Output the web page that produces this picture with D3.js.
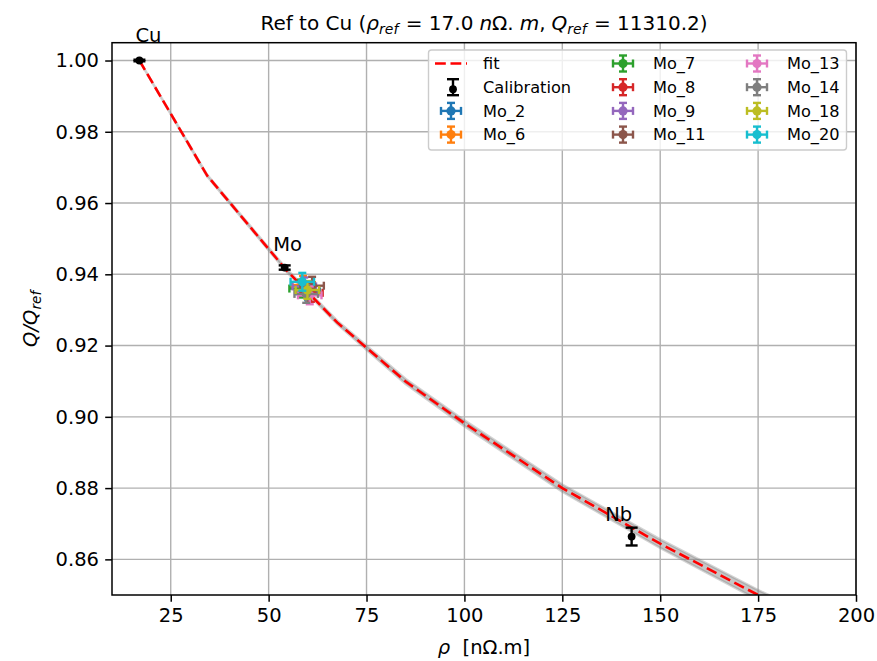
<!DOCTYPE html>
<html><head><meta charset="utf-8">
<script src="https://cdn.jsdelivr.net/npm/d3@7"></script>
<style>body{margin:0;background:#fff} text{font-family:"DejaVu Sans",sans-serif;fill:#000}</style>
</head><body><svg id="c" width="877" height="661"></svg>
<script>
// ---- data ----
const xTicks = [25, 50, 75, 100, 125, 150, 175, 200];
const yTicks = [0.86, 0.88, 0.90, 0.92, 0.94, 0.96, 0.98, 1.00];
const fitRho  = [17, 34.3, 54.5, 67.5, 85, 100, 125, 150, 175, 200];
const fitQ    = [1.0, 0.9677, 0.9412, 0.9265, 0.9099, 0.8982, 0.8800, 0.8644, 0.8500, 0.8368];
const fitBand = [0, 0.0002, 0.0004, 0.0005, 0.0007, 0.0008, 0.0010, 0.0012, 0.0014, 0.0016];
const calNames = ["Cu", "Mo", "Nb"];
const calRho   = [17.0, 54.1, 142.7];
const calQ     = [1.0, 0.9419, 0.8664];
const calErr   = [0.0002, 0.0006, 0.0025];
const sampleNames  = ["Mo_2","Mo_6","Mo_7","Mo_8","Mo_9","Mo_11","Mo_13","Mo_14","Mo_18","Mo_20"];
const sampleRho    = [60.1, 58.8, 58.3, 60.8, 59.1, 61.1, 60.5, 59.6, 59.9, 58.6];
const sampleQ      = [0.9352, 0.9370, 0.9360, 0.9348, 0.9366, 0.9368, 0.9341, 0.9345, 0.9356, 0.9379];
const sampleRhoErr = [3.0, 3.0, 3.0, 3.0, 3.0, 3.0, 3.0, 3.0, 3.0, 3.0];
const sampleQErr   = [0.0025, 0.0025, 0.0025, 0.0025, 0.0025, 0.0025, 0.0025, 0.0025, 0.0025, 0.0025];

// ---- layout / style ----
const L = 112, R = 856, T = 42.7, B = 595;
const FS = 19.5, LFS = 16.2;
const labelOffsets = [[9, -19], [3, -17], [-13, -16]];
const colors = d3.schemeCategory10;

const svg = d3.select("#c");
const x = d3.scaleLinear().domain([10, 200]).range([L, R]);
const y = d3.scaleLinear().domain([0.85, 1.005]).range([B, T]);

svg.append("defs").append("clipPath").attr("id", "clip")
  .append("rect").attr("x", L).attr("y", T).attr("width", R - L).attr("height", B - T);

// grid
const grid = svg.append("g");
xTicks.forEach(t => grid.append("line").attr("x1", x(t)).attr("x2", x(t)).attr("y1", T).attr("y2", B)
  .attr("stroke", "#b0b0b0").attr("stroke-width", 1.4));
yTicks.forEach(t => grid.append("line").attr("x1", L).attr("x2", R).attr("y1", y(t)).attr("y2", y(t))
  .attr("stroke", "#b0b0b0").attr("stroke-width", 1.4));

const plot = svg.append("g").attr("clip-path", "url(#clip)");
const fitData = fitRho.map((r, i) => ({ r, q: fitQ[i], b: fitBand[i] }));

// band
plot.append("path").datum(fitData)
  .attr("d", d3.area().x(d => x(d.r)).y0(d => y(d.q - d.b)).y1(d => y(d.q + d.b)))
  .attr("fill", "#808080").attr("fill-opacity", 0.45)
  .attr("stroke", "#808080").attr("stroke-opacity", 0.35).attr("stroke-width", 2.5);

// fit line
plot.append("path").datum(fitData)
  .attr("d", d3.line().x(d => x(d.r)).y(d => y(d.q)))
  .attr("fill", "none").attr("stroke", "#ff0000").attr("stroke-width", 2.6)
  .attr("stroke-dasharray", "10.8,4.7");

function vbar(g, cx, y1, y2, cap, col, w) {
  g.append("line").attr("x1", cx).attr("x2", cx).attr("y1", y1).attr("y2", y2).attr("stroke", col).attr("stroke-width", w);
  [y1, y2].forEach(yy => g.append("line").attr("x1", cx - cap).attr("x2", cx + cap).attr("y1", yy).attr("y2", yy)
    .attr("stroke", col).attr("stroke-width", w));
}
function hbar(g, cy, x1, x2, cap, col, w) {
  g.append("line").attr("x1", x1).attr("x2", x2).attr("y1", cy).attr("y2", cy).attr("stroke", col).attr("stroke-width", w);
  [x1, x2].forEach(xx => g.append("line").attr("x1", xx).attr("x2", xx).attr("y1", cy - cap).attr("y2", cy + cap)
    .attr("stroke", col).attr("stroke-width", w));
}
// calibration errorbars
const calG = plot.append("g");
calRho.forEach((r, i) => {
  vbar(calG, x(r), y(calQ[i] - calErr[i]), y(calQ[i] + calErr[i]), 6, "#000", 2.4);
  calG.append("circle").attr("cx", x(r)).attr("cy", y(calQ[i])).attr("r", 3.9).attr("fill", "#000");
});

// samples
sampleNames.forEach((n, i) => {
  const g = plot.append("g");
  const c = colors[i];
  const cx = x(sampleRho[i]), cy = y(sampleQ[i]);
  hbar(g, cy, x(sampleRho[i] - sampleRhoErr[i]), x(sampleRho[i] + sampleRhoErr[i]), 4, c, 2.4);
  vbar(g, cx, y(sampleQ[i] - sampleQErr[i]), y(sampleQ[i] + sampleQErr[i]), 4, c, 2.4);
  g.append("circle").attr("cx", cx).attr("cy", cy).attr("r", 4.6).attr("fill", c);
});

// annotations
calNames.forEach((n, i) => {
  svg.append("text").attr("x", x(calRho[i]) + labelOffsets[i][0]).attr("y", y(calQ[i]) + labelOffsets[i][1])
    .attr("text-anchor", "middle").attr("font-size", FS).text(n);
});

// axes
const xAxis = svg.append("g").attr("transform", `translate(0,${B})`)
  .call(d3.axisBottom(x).tickValues(xTicks).tickFormat(d3.format("d")).tickSize(6.8).tickPadding(6.2));
const yAxis = svg.append("g").attr("transform", `translate(${L},0)`)
  .call(d3.axisLeft(y).tickValues(yTicks).tickFormat(d3.format(".2f")).tickSize(6.8).tickPadding(6.2));
[xAxis, yAxis].forEach(a => {
  a.select(".domain").remove();
  a.selectAll(".tick line").attr("stroke", "#000").attr("stroke-width", 1.5);
  a.selectAll(".tick text").attr("font-size", FS).attr("font-family", "DejaVu Sans").attr("fill", "#000");
});
svg.append("rect").attr("x", L).attr("y", T).attr("width", R - L).attr("height", B - T)
  .attr("fill", "none").attr("stroke", "#000").attr("stroke-width", 1.5);

function addT(el, txt, opts = {}) {
  const t = el.append("tspan").text(txt);
  if (opts.it) t.attr("font-style", "italic");
  if (opts.fs) t.attr("font-size", opts.fs);
  if (opts.dy) t.attr("dy", opts.dy);
  if (opts.dx) t.attr("dx", opts.dx);
  return t;
}
// title
const TFS = 20;
const title = svg.append("text").attr("x", (L + R) / 2).attr("y", 29.5).attr("text-anchor", "middle").attr("font-size", TFS);
const SUB = TFS * 0.7;
addT(title, "Ref to Cu (");
addT(title, "ρ", { it: 1 });
addT(title, "ref", { it: 1, fs: SUB, dy: 4 });
addT(title, "\u00a0=\u00a017.0", { dy: -4, dx: 1 });
addT(title, "n", { it: 1, dx: 6 });
addT(title, "Ω.");
addT(title, "m", { it: 1, dx: 6 });
addT(title, ",");
addT(title, "Q", { it: 1, dx: 6 });
addT(title, "ref", { it: 1, fs: SUB, dy: 4 });
addT(title, "\u00a0=\u00a011310.2)", { dy: -4, dx: 1 });

// x label
const xl = svg.append("text").attr("x", (L + R) / 2).attr("y", 654).attr("text-anchor", "middle").attr("font-size", FS);
addT(xl, "ρ", { it: 1 });
addT(xl, "\u00a0\u00a0[nΩ.m]");

// y label
const SUBL = FS * 0.7;
const yl = svg.append("text").attr("transform", `translate(37,${(T + B) / 2}) rotate(-90)`)
  .attr("text-anchor", "middle").attr("font-size", FS);
addT(yl, "Q/Q", { it: 1 });
addT(yl, "ref", { it: 1, fs: SUBL, dy: 4 });

// legend
const lg = svg.append("g");
lg.append("rect").attr("x", 428.5).attr("y", 50).attr("width", 418).attr("height", 100).attr("rx", 3)
  .attr("fill", "#fff").attr("fill-opacity", 0.8).attr("stroke", "#cccccc").attr("stroke-width", 1.4);
const rowY = i => 63.5 + i * 23.7;
const colHandle = [451, 623, 757], colText = [483, 653, 787];
const entries = [{ type: "fit", name: "fit" }, { type: "cal", name: "Calibration" }]
  .concat(sampleNames.map((n, i) => ({ type: "s", name: n, c: colors[i] })));
entries.forEach((e, k) => {
  const col = Math.floor(k / 4), row = k % 4;
  const hx = colHandle[col], hy = rowY(row);
  if (e.type === "fit") {
    lg.append("line").attr("x1", hx - 16).attr("x2", hx + 16).attr("y1", hy).attr("y2", hy)
      .attr("stroke", "#ff0000").attr("stroke-width", 2.6).attr("stroke-dasharray", "10.8,4.7");
  } else if (e.type === "cal") {
    vbar(lg, hx + 2, hy - 8, hy + 8, 6, "#000", 2.4);
    lg.append("circle").attr("cx", hx + 2).attr("cy", hy + 2).attr("r", 3.9).attr("fill", "#000");
  } else {
    hbar(lg, hy, hx - 10, hx + 10, 4, e.c, 2.4);
    vbar(lg, hx, hy - 8, hy + 8, 4, e.c, 2.4);
    lg.append("circle").attr("cx", hx).attr("cy", hy).attr("r", 4.6).attr("fill", e.c);
  }
  lg.append("text").attr("x", colText[col]).attr("y", hy + 5.8).attr("font-size", LFS).text(e.name);
});
</script></body></html>
